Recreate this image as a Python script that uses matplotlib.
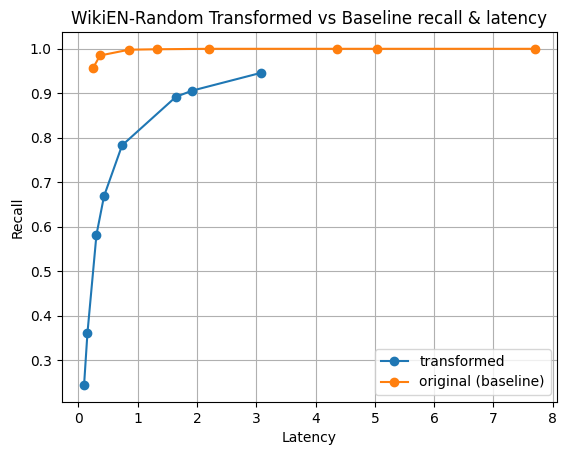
import matplotlib
matplotlib.use("Agg")
import matplotlib.pyplot as plt

# transformed index: latency vs recall
transformed_latency = [0.095, 0.152, 0.304, 0.432, 0.736, 1.644, 1.919, 3.08]
transformed_recall = [0.244, 0.361, 0.582, 0.669, 0.783, 0.892, 0.906, 0.946]

# original (baseline) index
baseline_latency = [0.247, 0.365, 0.855, 1.328, 2.206, 4.365, 5.04, 7.7]
baseline_recall = [0.957, 0.985, 0.998, 0.999, 1.0, 1.0, 1.0, 1.0]

fig = plt.figure(figsize=(5.67, 4.55), dpi=100)
fig.subplots_adjust(left=0.1085, right=0.9832, top=0.9297, bottom=0.1165)

plt.plot(transformed_latency, transformed_recall, marker="o", label="transformed")
plt.plot(baseline_latency, baseline_recall, marker="o", label="original (baseline)")

plt.xlabel("Latency")
plt.ylabel("Recall")
plt.title("WikiEN-Random Transformed vs Baseline recall & latency")
plt.legend(loc="lower right")
plt.grid(True)

plt.savefig("out.png", dpi=100)
plt.close()
